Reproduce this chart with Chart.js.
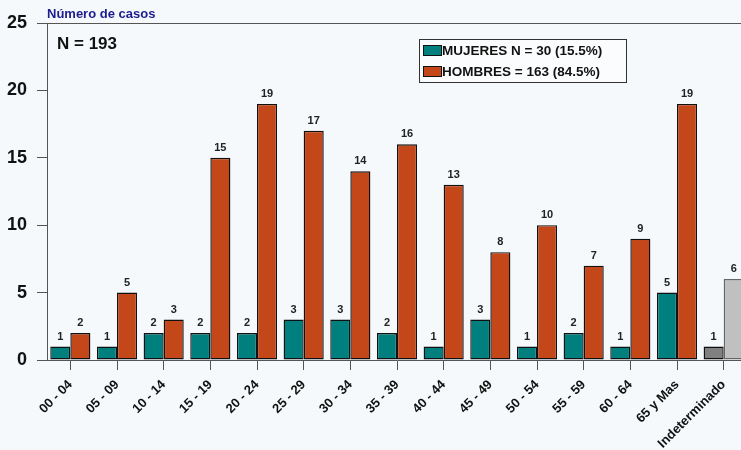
<!DOCTYPE html>
<html>
<head>
<meta charset="utf-8">
<script src="https://cdn.jsdelivr.net/npm/chart.js@4/dist/chart.umd.min.js"></script>
<style>
  html, body { margin: 0; padding: 0; background: #f5f9fb; overflow: hidden; }
  #wrap { width: 747px; height: 450px; }
</style>
</head>
<body>
<div id="wrap"><canvas id="chart" width="747" height="450"></canvas></div>
<script>
// Data
const categories = ['00 - 04', '05 - 09', '10 - 14', '15 - 19', '20 - 24', '25 - 29', '30 - 34',
  '35 - 39', '40 - 44', '45 - 49', '50 - 54', '55 - 59', '60 - 64', '65 y Mas', 'Indeterminado'];
const mujeres = [1, 1, 2, 2, 2, 3, 3, 2, 1, 3, 1, 2, 1, 5, 1];
const hombres = [2, 5, 3, 15, 19, 17, 14, 16, 13, 8, 10, 7, 9, 19, 6];
const yTicks = [0, 5, 10, 15, 20, 25];
const legendLabels = ['MUJERES N = 30 (15.5%)', 'HOMBRES = 163 (84.5%)'];

const teal = '#007f7f';
const orange = '#c4471a';
const FONT = '"Liberation Sans", Arial, sans-serif';

// last category is drawn in grays
const mujeresColors = categories.map((c, i) => i === categories.length - 1 ? '#808080' : teal);
const hombresColors = categories.map((c, i) => i === categories.length - 1 ? '#c0c0c0' : orange);
const hombresBorders = categories.map((c, i) => i === categories.length - 1 ? '#666' : '#111');

const extras = {
  id: 'extras',
  afterDatasetsDraw(chart) {
    const ctx = chart.ctx;
    const area = chart.chartArea;
    ctx.save();

    // top frame line
    ctx.strokeStyle = '#555';
    ctx.lineWidth = 1;
    ctx.beginPath();
    ctx.moveTo(area.left - 10, area.top + 0.5);
    ctx.lineTo(area.right, area.top + 0.5);
    ctx.stroke();

    // value labels
    ctx.fillStyle = '#222';
    ctx.font = 'bold 11px ' + FONT;
    ctx.textAlign = 'center';
    ctx.textBaseline = 'alphabetic';
    chart.data.datasets.forEach((ds, di) => {
      chart.getDatasetMeta(di).data.forEach((bar, i) => {
        ctx.fillText(ds.data[i], bar.x, bar.y - 7);
      });
    });

    // axis title
    ctx.textAlign = 'left';
    ctx.fillStyle = '#1c1c8f';
    ctx.font = 'bold 13px ' + FONT;
    ctx.fillText('Número de casos', area.left, 18);

    // N
    ctx.fillStyle = '#111';
    ctx.font = 'bold 17px ' + FONT;
    ctx.fillText('N = 193', area.left + 10, 49);

    // legend box
    const lx = 419, ly = 39, lw = 207, lh = 43;
    ctx.fillStyle = '#fbfcfd';
    ctx.fillRect(lx, ly, lw, lh);
    ctx.strokeStyle = '#333';
    ctx.strokeRect(lx + 0.5, ly + 0.5, lw, lh);
    ctx.font = 'bold 13.5px ' + FONT;
    ctx.textBaseline = 'middle';
    [teal, orange].forEach((col, i) => {
      const cy = ly + 11 + i * 21;
      ctx.fillStyle = col;
      ctx.fillRect(lx + 4.5, cy - 4.5, 18, 10);
      ctx.strokeStyle = '#111';
      ctx.strokeRect(lx + 4.5, cy - 4.5, 18, 10);
      ctx.fillStyle = '#111';
      ctx.fillText(legendLabels[i], lx + 23, cy + 1);
    });
    ctx.restore();
  }
};

new Chart('chart', {
  type: 'bar',
  data: {
    labels: categories,
    datasets: [{
      label: legendLabels[0],
      data: mujeres,
      backgroundColor: mujeresColors,
      borderColor: '#111',
      borderWidth: 1.4,
      borderSkipped: false
    }, {
      label: legendLabels[1],
      data: hombres,
      backgroundColor: hombresColors,
      borderColor: hombresBorders,
      borderWidth: 1.4,
      borderSkipped: false
    }]
  },
  options: {
    responsive: false,
    animation: false,
    layout: { padding: { top: 23, right: 0, left: 0, bottom: 0 } },
    datasets: { bar: { categoryPercentage: 0.86, barPercentage: 1.0 } },
    plugins: {
      legend: { display: false },
      tooltip: { enabled: false }
    },
    scales: {
      x: {
        afterFit(scale) { scale.height = 90; },
        grid: { offset: false, drawOnChartArea: false, drawTicks: true, tickLength: 10, color: '#555' },
        border: { color: '#555', width: 1 },
        ticks: {
          color: '#111',
          maxRotation: 45,
          minRotation: 45,
          autoSkip: false,
          padding: 7,
          font: { family: FONT, weight: 'bold', size: 13 }
        }
      },
      y: {
        min: 0,
        max: 25,
        afterFit(scale) { scale.width = 47; },
        afterBuildTicks(scale) { scale.ticks = yTicks.map(v => ({ value: v })); },
        grid: { drawOnChartArea: false, drawTicks: true, tickLength: 10, color: '#555' },
        border: { color: '#555', width: 1 },
        ticks: {
          color: '#111',
          padding: 10,
          font: { family: FONT, weight: 'bold', size: 18 }
        }
      }
    }
  },
  plugins: [extras]
});
</script>
</body>
</html>
